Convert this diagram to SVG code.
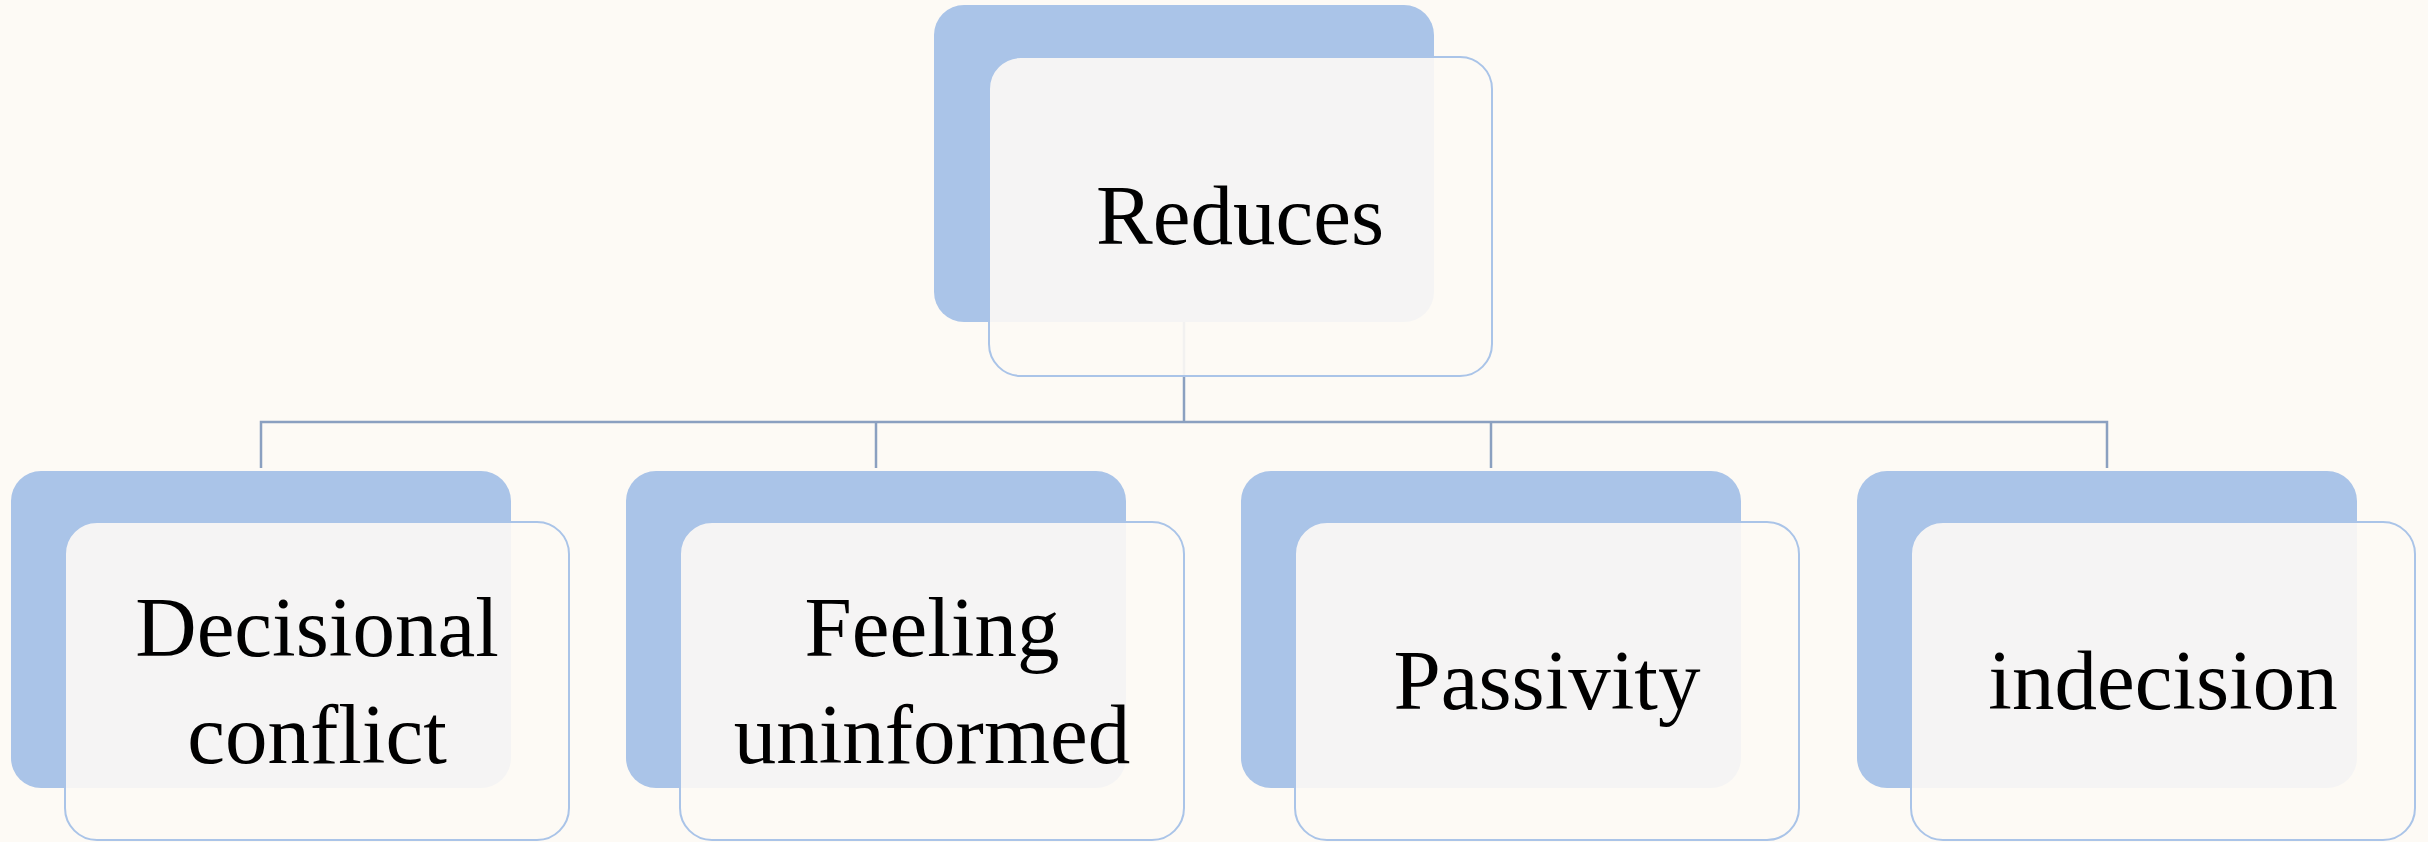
<svg xmlns="http://www.w3.org/2000/svg" width="2428" height="842" viewBox="0 0 2428 842">
<style>
.back{fill:#aac4e8}
.front{fill:#fdfaf5;fill-opacity:0.9;stroke:#aac4e8;stroke-width:2}
.conn{fill:none;stroke:#8ba0c0;stroke-width:2.5}
.lbl{font-family:"Liberation Serif","Times New Roman",serif;font-size:85px;fill:#000;text-anchor:middle}
</style>
<rect width="2428" height="842" fill="#fdfaf5"/>
<g id="connectors">
<path class="conn" d="M1184,322 V422"/>
<path class="conn" d="M261,468 V422 H2107 V468"/>
<path class="conn" d="M876,422 V468"/>
<path class="conn" d="M1491,422 V468"/>
</g>
<g id="node-reduces">
<rect class="back" x="934" y="5" width="500" height="317" rx="30"/>
<rect class="front" x="989" y="57" width="503" height="319" rx="32"/>
<text class="lbl" x="1240" y="244">Reduces</text>
</g>
<g id="node-decisional-conflict">
<rect class="back" x="11" y="471" width="500" height="317" rx="30"/>
<rect class="front" x="65" y="522" width="504" height="318" rx="32"/>
<text class="lbl" x="317" y="656">Decisional</text>
<text class="lbl" x="317" y="763">conflict</text>
</g>
<g id="node-feeling-uninformed">
<rect class="back" x="626" y="471" width="500" height="317" rx="30"/>
<rect class="front" x="680" y="522" width="504" height="318" rx="32"/>
<text class="lbl" x="932" y="656">Feeling</text>
<text class="lbl" x="932" y="763">uninformed</text>
</g>
<g id="node-passivity">
<rect class="back" x="1241" y="471" width="500" height="317" rx="30"/>
<rect class="front" x="1295" y="522" width="504" height="318" rx="32"/>
<text class="lbl" x="1547" y="709">Passivity</text>
</g>
<g id="node-indecision">
<rect class="back" x="1857" y="471" width="500" height="317" rx="30"/>
<rect class="front" x="1911" y="522" width="504" height="318" rx="32"/>
<text class="lbl" x="2163" y="709">indecision</text>
</g>
</svg>
